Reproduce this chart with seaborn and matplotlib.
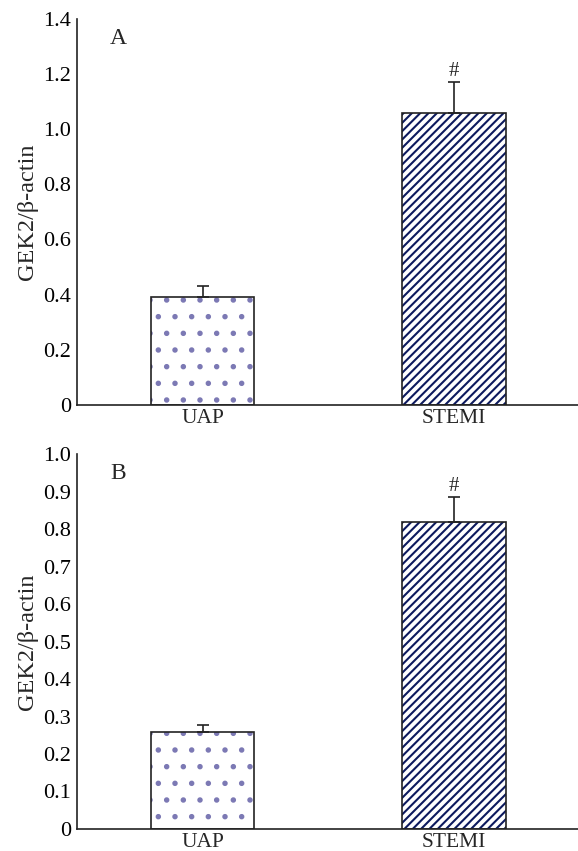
import seaborn as sns
import matplotlib.pyplot as plt
import matplotlib.ticker as mticker
from matplotlib.patches import Rectangle
import pandas as pd

# data
groups = ["UAP", "STEMI"]
means_a = [0.39, 1.06]
err_a = [0.04, 0.11]
means_b = [0.26, 0.82]
err_b = [0.018, 0.065]
panel_labels = ["A", "B"]
ylims = [1.4, 1.0]
ysteps = [0.2, 0.1]

hatches = [".", "////"]
hatch_colors = ["#7c79b4", "#0d1a5e"]

sns.set_theme(style="white")
plt.rcParams["font.family"] = ["Liberation Serif", "DejaVu Serif"]
plt.rcParams["hatch.linewidth"] = 1.5

fig = plt.figure(figsize=(5.78, 8.51), dpi=100)
ax_a = fig.add_axes([0.133, 0.524, 0.870, 0.454])
ax_b = fig.add_axes([0.133, 0.026, 0.870, 0.440])


def draw_panel(ax, means, errs, label, ymax, step):
    df = pd.DataFrame({"group": groups, "value": means})
    sns.barplot(data=df, x="group", y="value", ax=ax, width=0.41,
                errorbar=None, color="white")
    for p, h, hc in zip(ax.patches, hatches, hatch_colors):
        p.set_hatch(h)
        p.set_edgecolor(hc)
        p.set_linewidth(0)
        # black outline on top of the hatch
        ax.add_patch(Rectangle(p.get_xy(), p.get_width(), p.get_height(),
                               fill=False, edgecolor="#222222", lw=1.2, zorder=3))
    # one sided error bars
    ax.errorbar(range(len(groups)), means, yerr=[[0] * len(errs), errs],
                fmt="none", ecolor="#222222", elinewidth=1.2, capsize=4,
                capthick=1.2, zorder=4)
    # significance mark over STEMI
    ax.text(1, means[1] + errs[1] + ymax * 0.004, "#", ha="center",
            va="bottom", fontsize=15)
    ax.text(-0.335, ymax * 0.948, label, ha="center", va="center", fontsize=17)

    ax.set_xlim(-0.5, 1.5)
    ax.set_ylim(0, ymax)
    ax.yaxis.set_major_locator(mticker.MultipleLocator(step))
    ax.yaxis.set_major_formatter(mticker.FuncFormatter(
        lambda v, pos: "0" if abs(v) < 1e-9 else f"{v:.1f}"))
    ax.tick_params(axis="y", direction="in", length=4, width=1,
                   labelsize=16, pad=4, colors="#222222", labelcolor="black")
    ax.tick_params(axis="x", length=0, labelsize=15.5, pad=3)
    ax.xaxis.set_minor_locator(mticker.FixedLocator([0.5]))
    ax.tick_params(axis="x", which="minor", direction="in", length=5, width=1,
                   colors="#222222")
    ax.set_xlabel("")
    ax.set_ylabel("GEK2/β-actin", fontsize=17.5, labelpad=4)
    for side in ["top", "right"]:
        ax.spines[side].set_visible(False)
    for side in ["left", "bottom"]:
        ax.spines[side].set_color("#222222")
        ax.spines[side].set_linewidth(1.2)


draw_panel(ax_a, means_a, err_a, panel_labels[0], ylims[0], ysteps[0])
draw_panel(ax_b, means_b, err_b, panel_labels[1], ylims[1], ysteps[1])

fig.savefig("out.png", dpi=100)
